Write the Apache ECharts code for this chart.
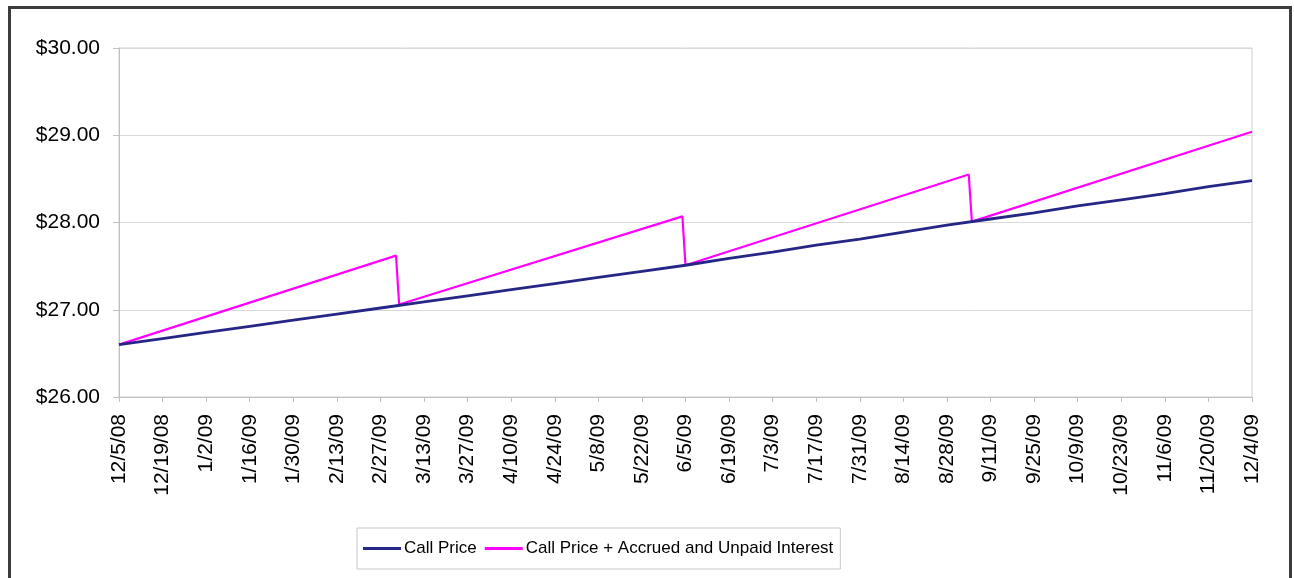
<!DOCTYPE html>
<html>
<head>
<meta charset="utf-8">
<script src="https://cdn.jsdelivr.net/npm/echarts@6/dist/echarts.min.js"></script>
<style>
  html, body { margin: 0; padding: 0; background: #fff; }
  #frame {
    position: absolute; left: 8px; top: 6px; width: 1278px; height: 600px;
    border: 3px solid #3c3c3c; box-sizing: content-box;
  }
  #chart { position: absolute; left: 0; top: 0; width: 1294px; height: 578px; }
</style>
</head>
<body>
<div id="frame"></div>
<div id="chart"></div>
<script>
// tick labels on the date axis, every 14 days
var tickLabels = ["12/5/08","12/19/08","1/2/09","1/16/09","1/30/09","2/13/09","2/27/09","3/13/09",
  "3/27/09","4/10/09","4/24/09","5/8/09","5/22/09","6/5/09","6/19/09","7/3/09","7/17/09",
  "7/31/09","8/14/09","8/28/09","9/11/09","9/25/09","10/9/09","10/23/09","11/6/09","11/20/09","12/4/09"];

// Call Price, read at each tick date
var callPrice = [26.60, 26.67, 26.74, 26.81, 26.88, 26.95, 27.02, 27.09, 27.16, 27.23,
  27.30, 27.37, 27.44, 27.51, 27.59, 27.66, 27.74, 27.81, 27.89, 27.97,
  28.04, 28.11, 28.19, 28.26, 28.33, 28.41, 28.48];

// Call Price + Accrued and Unpaid Interest (sawtooth corners)
var accruedDates = ["12/5/08","3/4/09","3/5/09","6/4/09","6/5/09","9/4/09","9/5/09","12/4/09"];
var accruedValues = [26.60, 27.62, 27.06, 28.07, 27.51, 28.55, 28.01, 29.04];

var yTicks = [26, 27, 28, 29, 30];

function dayOf(s) {
  var p = s.split("/");
  var t = Date.UTC(2000 + Number(p[2]), Number(p[0]) - 1, Number(p[1]));
  var p0 = tickLabels[0].split("/");
  var t0 = Date.UTC(2000 + Number(p0[2]), Number(p0[0]) - 1, Number(p0[1]));
  return Math.round((t - t0) / 86400000);
}

var callData = tickLabels.map(function (d, i) { return [dayOf(d), callPrice[i]]; });
var accruedData = accruedDates.map(function (d, i) { return [dayOf(d), accruedValues[i]]; });
var lastDay = dayOf(tickLabels[tickLabels.length - 1]);

var myChart = echarts.init(document.getElementById("chart"));
var font = "Liberation Sans, Arial, sans-serif";
var option = {
  animation: false,
  grid: { left: 119, right: 42, top: 48, bottom: 181, show: true, borderColor: "#d0d0d0", borderWidth: 1 },
  legend: {
    left: 357, top: 528, itemGap: 8, itemWidth: 38, itemHeight: 3,
    padding: [12, 7, 12, 6],
    borderColor: "#c8c8c8", borderWidth: 1,
    icon: "rect",
    textStyle: { fontFamily: font, fontSize: 17, color: "#000", padding: [0, 0, 0, -2] },
    data: ["Call Price", "Call Price + Accrued and Unpaid Interest"]
  },
  xAxis: {
    type: "value", min: 0, max: lastDay, interval: 14,
    axisLine: { lineStyle: { color: "#c0c0c0", width: 1 } },
    axisTick: { show: true, length: 5, lineStyle: { color: "#c0c0c0" } },
    splitLine: { show: false },
    axisLabel: {
      rotate: 90, margin: 17, fontFamily: font, fontSize: 21, color: "#000",
      formatter: function (v) { return tickLabels[Math.round(v / 14)]; }
    }
  },
  yAxis: {
    type: "value", min: yTicks[0], max: yTicks[yTicks.length - 1], interval: 1,
    axisLine: { show: true, lineStyle: { color: "#c0c0c0", width: 1 } },
    axisTick: { show: true, length: 6, lineStyle: { color: "#c0c0c0" } },
    splitLine: { lineStyle: { color: "#d9d9d9", width: 1 } },
    axisLabel: {
      margin: 19, fontFamily: font, fontSize: 21, color: "#000",
      formatter: function (v) { return "$" + v.toFixed(2); }
    }
  },
  series: [
    {
      name: "Call Price", type: "line", data: callData, showSymbol: false,
      color: "#262686", lineStyle: { width: 2.8, color: "#262686" }, z: 3
    },
    {
      name: "Call Price + Accrued and Unpaid Interest", type: "line", data: accruedData, showSymbol: false,
      color: "#ff00ff", lineStyle: { width: 2.2, color: "#ff00ff" }, z: 2
    }
  ]
};
myChart.setOption(option);
</script>
</body>
</html>
